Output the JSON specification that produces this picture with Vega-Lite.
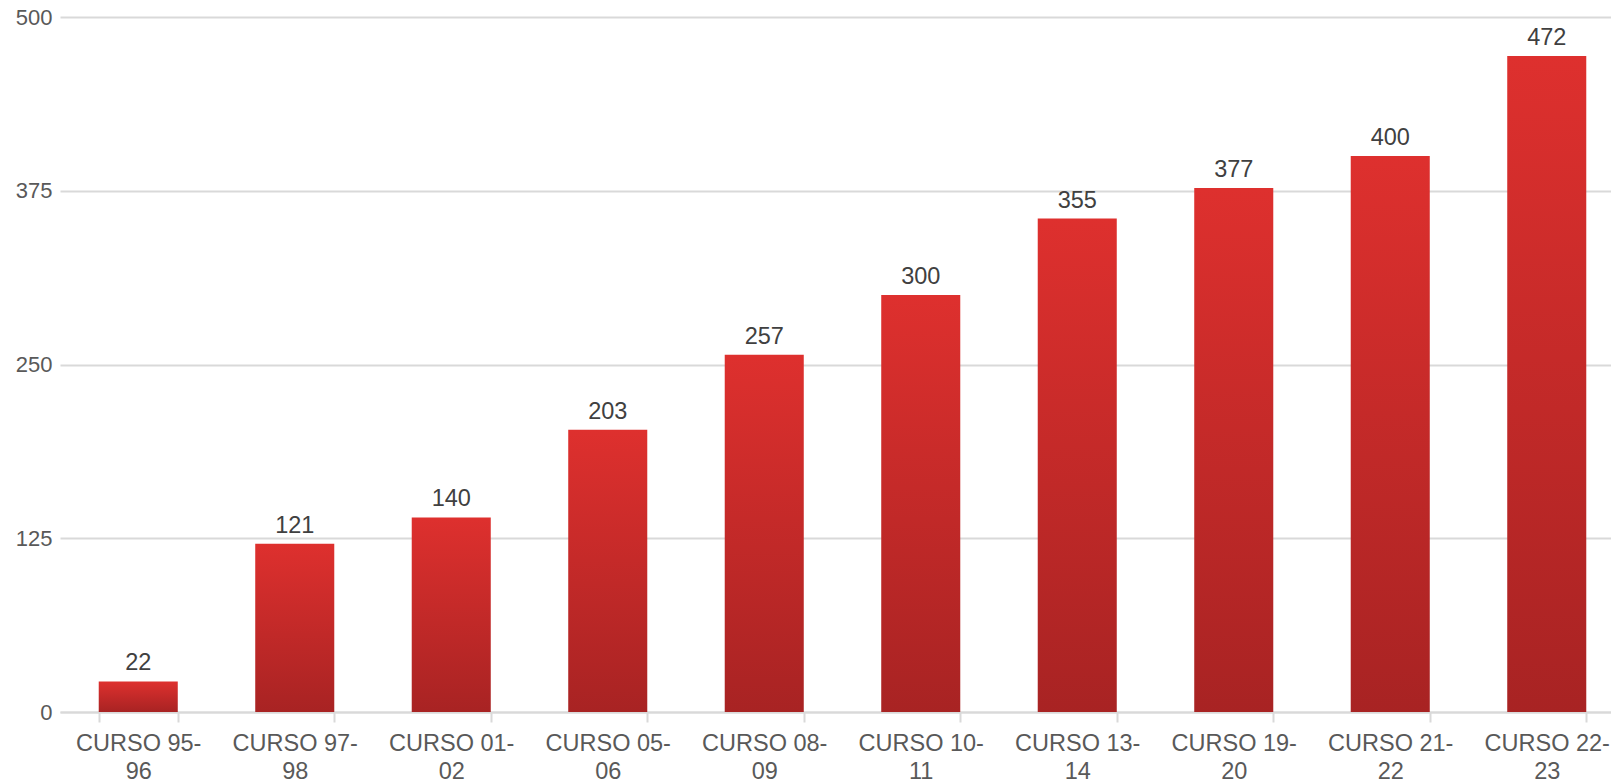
{
  "$schema": "https://vega.github.io/schema/vega-lite/v6.json",
  "autosize": {"type": "none"},
  "width": 1551,
  "height": 695,
  "padding": {"left": 60, "top": 17, "right": 0, "bottom": 69},
  "background": "white",
  "config": {
    "view": {"stroke": null},
    "font": "Liberation Sans"
  },
  "data": {
    "values": [
      {"curso": "CURSO 95-96", "alumnos": 22},
      {"curso": "CURSO 97-98", "alumnos": 121},
      {"curso": "CURSO 01-02", "alumnos": 140},
      {"curso": "CURSO 05-06", "alumnos": 203},
      {"curso": "CURSO 08-09", "alumnos": 257},
      {"curso": "CURSO 10-11", "alumnos": 300},
      {"curso": "CURSO 13-14", "alumnos": 355},
      {"curso": "CURSO 19-20", "alumnos": 377},
      {"curso": "CURSO 21-22", "alumnos": 400},
      {"curso": "CURSO 22-23", "alumnos": 472}
    ]
  },
  "encoding": {
    "x": {
      "field": "curso",
      "type": "nominal",
      "sort": null,
      "scale": {"range": [0, 1565], "paddingInner": 0.495, "paddingOuter": 0.2475},
      "axis": {
        "title": null,
        "labelAngle": 0,
        "labelExpr": "[substring(datum.label, 0, 9), substring(datum.label, 9)]",
        "labelFontSize": 23.5,
        "labelLineHeight": 28,
        "labelColor": "#595959",
        "labelPadding": 9,
        "domainColor": "#d9d9d9",
        "domainWidth": 2,
        "tickColor": "#d9d9d9",
        "tickWidth": 2,
        "tickSize": 10,
        "tickBand": "extent",
        "grid": false
      }
    },
    "y": {
      "field": "alumnos",
      "type": "quantitative",
      "scale": {"domain": [0, 500], "nice": false},
      "axis": {
        "title": null,
        "values": [0, 125, 250, 375, 500],
        "labelFontSize": 22,
        "labelColor": "#595959",
        "labelPadding": 8,
        "domain": false,
        "ticks": false,
        "gridColor": "#d9d9d9",
        "gridWidth": 2
      }
    }
  },
  "layer": [
    {
      "mark": {
        "type": "bar",
        "color": {
          "gradient": "linear",
          "x1": 0, "y1": 0, "x2": 0, "y2": 1,
          "stops": [
            {"offset": 0, "color": "#de302e"},
            {"offset": 1, "color": "#a82323"}
          ]
        }
      }
    },
    {
      "mark": {
        "type": "text",
        "dy": -11,
        "baseline": "alphabetic",
        "fontSize": 23.5,
        "color": "#404040"
      },
      "encoding": {"text": {"field": "alumnos", "type": "quantitative"}}
    }
  ]
}
